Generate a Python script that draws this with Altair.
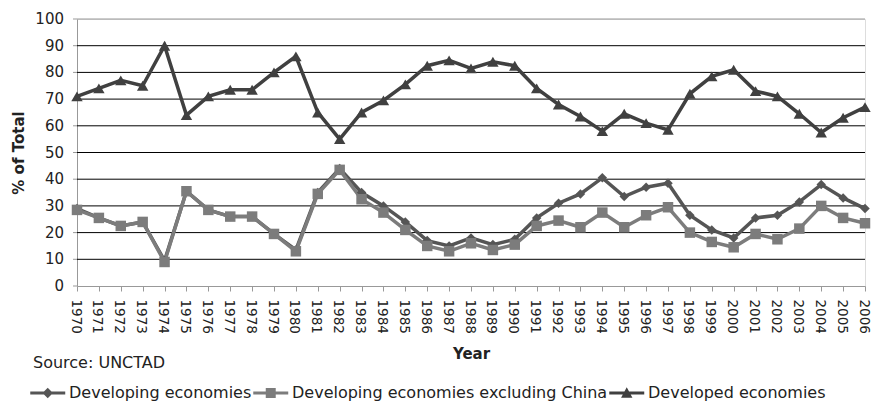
import altair as alt
import pandas as pd

years = list(range(1970, 2007))

developing = [29, 25.5, 22.5, 24, 9.5, 35.5, 28.5, 26, 26, 19.5, 13.5, 35, 44, 35, 30,
              24, 17, 15, 18, 15.5, 17.5, 25.5, 31, 34.5, 40.5, 33.5, 37, 38.5, 26.5,
              21, 18, 25.5, 26.5, 31.5, 38, 33, 29]
excl_china = [28.5, 25.5, 22.5, 24, 9, 35.5, 28.5, 26, 26, 19.5, 13, 34.5, 43.5, 32.5, 27.5,
              21, 15, 13, 16, 13.5, 15.5, 22.5, 24.5, 22, 27.5, 22, 26.5, 29.5, 20,
              16.5, 14.5, 19.5, 17.5, 21.5, 30, 25.5, 23.5]
developed = [71, 74, 77, 75, 90, 64, 71, 73.5, 73.5, 80, 86, 65, 55, 65, 69.5,
             75.5, 82.5, 84.5, 81.5, 84, 82.5, 74, 68, 63.5, 58, 64.5, 61, 58.5, 72,
             78.5, 81, 73, 71, 64.5, 57.5, 63, 67]

y_ticks = [0, 10, 20, 30, 40, 50, 60, 70, 80, 90, 100]

series_names = ["Developing economies", "Developing economies excluding China", "Developed economies"]
series_colors = ["#555555", "#7c7c7c", "#404040"]
series_shapes = ["diamond", "square", "triangle-up"]
series_sizes = [90, 110, 130]

rows = []
for name, vals in zip(series_names, [developing, excl_china, developed]):
    for y, v in zip(years, vals):
        rows.append({"Year": y, "series": name, "value": v})
df = pd.DataFrame(rows)

ticks_df = pd.DataFrame({"value": y_ticks, "label": [str(t) for t in y_ticks],
                         "inner": [0 < t < 100 for t in y_ticks]})

FONT = "DejaVu Sans"

color_scale = alt.Scale(domain=series_names, range=series_colors)
y_scale = alt.Scale(domain=[0, 100], nice=False)
x_scale = alt.Scale(paddingInner=0, paddingOuter=0, padding=0)

x_enc = alt.X("Year:O", title="Year", scale=x_scale,
              axis=alt.Axis(labelAngle=90, labelAlign="left", labelBaseline="middle",
                            labelPadding=8, tickSize=5, tickColor="#999999",
                            domainColor="#999999", titlePadding=13, labelOffset=-2,
                            labelFontSize=13.5, titleFontSize=15, titleFontWeight="bold",
                            labelColor="#222222", titleColor="#222222", grid=False,
                            labelOverlap=False))
y_enc = alt.Y("value:Q", title="% of Total", scale=y_scale,
              axis=alt.Axis(labels=False, ticks=False, grid=False,
                            domainColor="#999999", titlePadding=51,
                            titleFontSize=15, titleFontWeight="bold", titleColor="#222222"))

base = alt.Chart(df)

lines = base.mark_line(strokeWidth=3.5).encode(
    x=x_enc, y=y_enc,
    color=alt.Color("series:N", scale=color_scale),
    detail="series:N",
)

point_layers = []
for name, shp, sz in zip(series_names, series_shapes, series_sizes):
    point_layers.append(
        base.transform_filter(alt.datum.series == name)
        .mark_point(filled=True, shape=shp, size=sz, opacity=1)
        .encode(x=x_enc, y=y_enc, color=alt.Color("series:N", scale=color_scale))
    )

legend_paths = [
    "M-1,-0.17H3V0.17H-1Z M1,-0.6L1.6,0L1,0.6L0.4,0Z",
    "M-1,-0.17H3V0.17H-1Z M0.43,-0.57H1.57V0.57H0.43Z",
    "M-1,-0.17H3V0.17H-1Z M1,-0.65L1.65,0.55H0.35Z",
]

leg = alt.Legend(title=None, orient="none", legendX=-47, legendY=365, direction="horizontal",
                 symbolSize=306, labelFontSize=16, labelFont=FONT, labelColor="#222222",
                 labelOffset=21, columnPadding=1, symbolStrokeWidth=0, labelLimit=500)

legend_layer = base.transform_filter("false").mark_point(filled=True, size=306).encode(
    x=x_enc, y=y_enc,
    color=alt.Color("series:N", scale=color_scale, legend=leg),
    shape=alt.Shape("series:N", scale=alt.Scale(domain=series_names, range=legend_paths), legend=leg),
)

tick_base = alt.Chart(ticks_df)
grid = tick_base.transform_filter(alt.datum.inner).mark_rule(color="#000000", strokeWidth=1).encode(
    y=y_enc
)
top_border = tick_base.transform_filter(alt.datum.value == 100).mark_rule(
    color="#999999", strokeWidth=1).encode(y=y_enc)
tick_marks = tick_base.mark_rule(color="#999999", strokeWidth=1).encode(
    y=y_enc, x=alt.value(-4), x2=alt.value(0)
)
tick_labels = tick_base.mark_text(align="right", baseline="middle", fontSize=15, font=FONT,
                                  color="#222222").encode(
    y=y_enc, x=alt.value(-13), text="label:N"
)

source = alt.Chart(pd.DataFrame({"t": ["Source: UNCTAD"]})).mark_text(
    align="left", baseline="alphabetic", fontSize=16, font=FONT, color="#222222"
).encode(x=alt.value(-44), y=alt.value(349), text="t:N")

chart = alt.layer(grid, top_border, tick_marks, tick_labels, lines, *point_layers,
                  legend_layer, source).properties(
    width=788, height=267,
    autosize=alt.AutoSizeParams(type="none"),
    padding={"left": 77, "top": 19, "right": 6, "bottom": 118},
).configure_view(stroke="#999999", strokeWidth=1).configure(font=FONT)

chart.save("out.html", embed_options={"renderer": "svg", "actions": False})
